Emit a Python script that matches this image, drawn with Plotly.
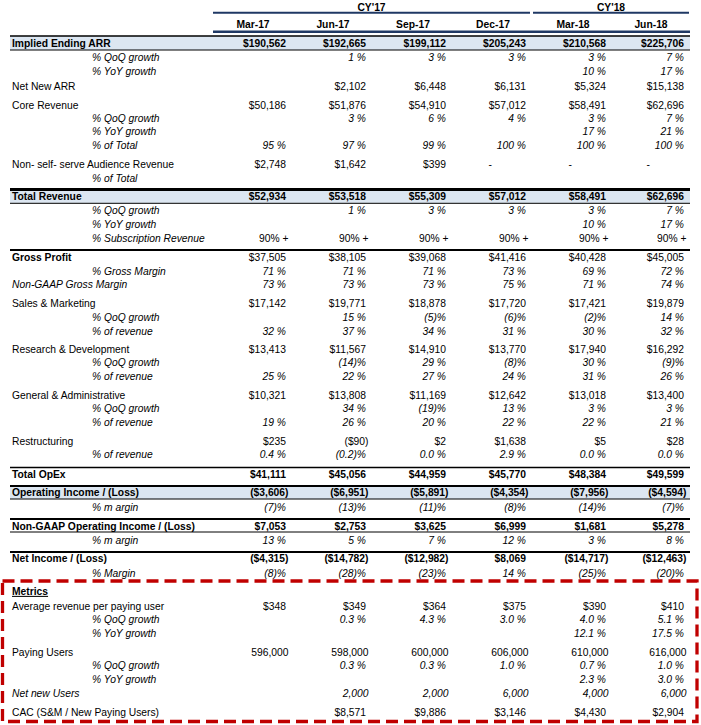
import plotly.graph_objects as go

# ---------------- data ----------------
periods = ["Mar-17", "Jun-17", "Sep-17", "Dec-17", "Mar-18", "Jun-18"]
years = ["CY'17", "CY'18"]

arr = [190562, 192665, 199112, 205243, 210568, 225706]
arr_qoq = [None, 1, 3, 3, 3, 7]
arr_yoy = [None, None, None, None, 10, 17]
net_new_arr = [None, 2102, 6448, 6131, 5324, 15138]
core_rev = [50186, 51876, 54910, 57012, 58491, 62696]
core_qoq = [None, 3, 6, 4, 3, 7]
core_yoy = [None, None, None, None, 17, 21]
core_pct_total = [95, 97, 99, 100, 100, 100]
nonself_rev = [2748, 1642, 399, 0, 0, 0]
nonself_pct = [None, None, None, None, None, None]
total_rev = [52934, 53518, 55309, 57012, 58491, 62696]
tr_qoq = [None, 1, 3, 3, 3, 7]
tr_yoy = [None, None, None, None, 10, 17]
sub_rev_pct = ["90% +", "90% +", "90% +", "90% +", "90% +", "90% +"]
gross_profit = [37505, 38105, 39068, 41416, 40428, 45005]
gross_margin = [71, 71, 71, 73, 69, 72]
ng_gross_margin = [73, 73, 73, 75, 71, 74]
sm = [17142, 19771, 18878, 17720, 17421, 19879]
sm_qoq = [None, 15, -5, -6, -2, 14]
sm_pct = [32, 37, 34, 31, 30, 32]
rd = [13413, 11567, 14910, 13770, 17940, 16292]
rd_qoq = [None, -14, 29, -8, 30, -9]
rd_pct = [25, 22, 27, 24, 31, 26]
ga = [10321, 13808, 11169, 12642, 13018, 13400]
ga_qoq = [None, 34, -19, 13, 3, 3]
ga_pct = [19, 26, 20, 22, 22, 21]
restr = [235, -90, 2, 1638, 5, 28]
restr_pct = [0.4, -0.2, 0.0, 2.9, 0.0, 0.0]
opex = [41111, 45056, 44959, 45770, 48384, 49599]
op_inc = [-3606, -6951, -5891, -4354, -7956, -4594]
op_margin = [-7, -13, -11, -8, -14, -7]
ng_op_inc = [7053, 2753, 3625, 6999, 1681, 5278]
ng_op_margin = [13, 5, 7, 12, 3, 8]
net_inc = [-4315, -14782, -12982, 8069, -14717, -12463]
net_margin = [-8, -28, -23, 14, -25, -20]
arpu = [348, 349, 364, 375, 390, 410]
arpu_qoq = [None, 0.3, 4.3, 3.0, 4.0, 5.1]
arpu_yoy = [None, None, None, None, 12.1, 17.5]
paying_users = [596000, 598000, 600000, 606000, 610000, 616000]
pay_qoq = [None, 0.3, 0.3, 1.0, 0.7, 1.0]
pay_yoy = [None, None, None, None, 2.3, 3.0]
net_new_users = [None, 2000, 2000, 6000, 4000, 6000]
cac = [None, 8571, 9886, 3146, 4430, 2904]

# ---------------- layout constants ----------------
W, H = 701, 725
FONT = "Arial, Liberation Sans, sans-serif"
FS = 10.3
COL_RIGHT = [286, 366, 446, 526, 606, 684]
MAIN_X, SUB_X = 12, 92
TEXT_DY = 1.3  # vertical nudge so glyphs sit on the same baseline as the reference
NAVY = "#1F3864"
HL = "#DCE6F1"
RED = "#C00000"

# (label, values, format, label style, value style, indent, y)
rows = [
    ("Implied Ending ARR", arr, "usd", "b", "b", 0, 43.5),
    ("% QoQ growth", arr_qoq, "pct", "i", "i", 1, 57.5),
    ("% YoY growth", arr_yoy, "pct", "i", "i", 1, 71.5),
    ("Net New ARR", net_new_arr, "usd", "", "", 0, 86),
    ("Core Revenue", core_rev, "usd", "", "", 0, 105),
    ("% QoQ growth", core_qoq, "pct", "i", "i", 1, 118),
    ("% YoY growth", core_yoy, "pct", "i", "i", 1, 131.5),
    ("% of Total", core_pct_total, "pct", "i", "i", 1, 145.5),
    ("Non- self- serve Audience Revenue", nonself_rev, "usd", "", "", 0, 164),
    ("% of Total", nonself_pct, "pct", "i", "i", 1, 178),
    ("Total Revenue", total_rev, "usd", "b", "b", 0, 196.5),
    ("% QoQ growth", tr_qoq, "pct", "i", "i", 1, 210.5),
    ("% YoY growth", tr_yoy, "pct", "i", "i", 1, 224.3),
    ("% Subscription Revenue", sub_rev_pct, "txt", "i", "", 1, 238),
    ("Gross Profit", gross_profit, "usd", "b", "", 0, 256.7),
    ("% Gross Margin", gross_margin, "pct", "i", "i", 1, 270.7),
    ("Non-GAAP Gross Margin", ng_gross_margin, "pct", "i", "i", 0, 284.5),
    ("Sales & Marketing", sm, "usd", "", "", 0, 303),
    ("% QoQ growth", sm_qoq, "pct", "i", "i", 1, 317),
    ("% of revenue", sm_pct, "pct", "i", "i", 1, 330.7),
    ("Research & Development", rd, "usd", "", "", 0, 349),
    ("% QoQ growth", rd_qoq, "pct", "i", "i", 1, 362.5),
    ("% of revenue", rd_pct, "pct", "i", "i", 1, 376),
    ("General & Administrative", ga, "usd", "", "", 0, 395.3),
    ("% QoQ growth", ga_qoq, "pct", "i", "i", 1, 408.5),
    ("% of revenue", ga_pct, "pct", "i", "i", 1, 422.5),
    ("Restructuring", restr, "usd", "", "", 0, 441.3),
    ("% of revenue", restr_pct, "pct1", "i", "i", 1, 454.5),
    ("Total OpEx", opex, "usd", "b", "b", 0, 474),
    ("Operating Income / (Loss)", op_inc, "usd", "b", "b", 0, 492.5),
    ("% m argin", op_margin, "pct", "i", "i", 1, 507),
    ("Non-GAAP Operating Income / (Loss)", ng_op_inc, "usd", "b", "b", 0, 526),
    ("% m argin", ng_op_margin, "pct", "i", "i", 1, 540),
    ("Net Income / (Loss)", net_inc, "usd", "b", "b", 0, 558.5),
    ("% Margin", net_margin, "pct", "i", "i", 1, 573),
    ("Metrics", [None] * 6, "usd", "bu", "", 0, 591),
    ("Average revenue per paying user", arpu, "usd", "", "", 0, 605.8),
    ("% QoQ growth", arpu_qoq, "pct1", "i", "i", 1, 619.2),
    ("% YoY growth", arpu_yoy, "pct1", "i", "i", 1, 632.8),
    ("Paying Users", paying_users, "cnt", "", "", 0, 651.8),
    ("% QoQ growth", pay_qoq, "pct1", "i", "i", 1, 665.2),
    ("% YoY growth", pay_yoy, "pct1", "i", "i", 1, 678.8),
    ("Net new Users", net_new_users, "cnt", "i", "i", 0, 692.7),
    ("CAC (S&M / New Paying Users)", cac, "usd", "", "", 0, 711.8),
]


def style(s, st):
    if "b" in st:
        s = "<b>" + s + "</b>"
    if "i" in st:
        s = "<i>" + s + "</i>"
    if "u" in st:
        s = "<u>" + s + "</u>"
    return s


def fmt(v, kind):
    if kind == "txt":
        return v
    if kind == "usd":
        if v == 0:
            return "-"
        return f"(${-v:,})" if v < 0 else f"${v:,}"
    if kind == "pct":
        return f"({-v})%" if v < 0 else f"{v} %"
    if kind == "pct1":
        return f"({-v:.1f})%" if v < 0 else f"{v:.1f} %"
    if kind == "cnt":
        return f"{v:,}"
    return str(v)


lab_x, lab_y, lab_t = [], [], []
val_x, val_y, val_t = [], [], []
for label, vals, kind, lst, vst, ind, y in rows:
    y = y + TEXT_DY
    lab_x.append(SUB_X if ind else MAIN_X)
    lab_y.append(y)
    lab_t.append(style(label, lst))
    for j, v in enumerate(vals):
        if v is None:
            continue
        s = fmt(v, kind)
        x = COL_RIGHT[j]
        if s == "-":
            x -= 34
        elif s.endswith(")"):
            x += 2.5
        elif kind == "cnt":
            x += 2.5
        elif kind == "txt":
            x += 2.5
        val_x.append(x)
        val_y.append(y)
        val_t.append(style(s, vst))

fig = go.Figure()

fig.add_trace(go.Scatter(x=lab_x, y=lab_y, text=lab_t, mode="text",
                         textposition="middle right", cliponaxis=False,
                         textfont=dict(family=FONT, size=FS, color="#000"),
                         hoverinfo="skip", showlegend=False))
fig.add_trace(go.Scatter(x=val_x, y=val_y, text=val_t, mode="text",
                         textposition="middle left", cliponaxis=False,
                         textfont=dict(family=FONT, size=FS, color="#000"),
                         hoverinfo="skip", showlegend=False))

# headers
hdr_x = [c - 33 for c in COL_RIGHT]
fig.add_trace(go.Scatter(x=hdr_x, y=[24 + TEXT_DY] * 6, text=["<b>" + p + "</b>" for p in periods],
                         mode="text", textposition="middle center", cliponaxis=False,
                         textfont=dict(family=FONT, size=FS, color="#000"),
                         hoverinfo="skip", showlegend=False))
fig.add_trace(go.Scatter(x=[371.5, 611], y=[7 + TEXT_DY] * 2, text=["<b>" + y + "</b>" for y in years],
                         mode="text", textposition="middle center", cliponaxis=False,
                         textfont=dict(family=FONT, size=FS, color="#000"),
                         hoverinfo="skip", showlegend=False))

shapes = []
for y0, y1 in [(36, 50), (190, 203), (486, 499)]:
    shapes.append(dict(type="rect", xref="x", yref="y", x0=10, x1=690, y0=y0, y1=y1,
                       fillcolor=HL, line=dict(width=0), layer="below"))


def hline(x0, x1, y, w, c):
    shapes.append(dict(type="line", xref="x", yref="y", x0=x0, x1=x1, y0=y, y1=y,
                       line=dict(color=c, width=w)))


hline(213, 530, 12.7, 2, NAVY)
hline(533, 689, 12.7, 2, NAVY)
hline(213, 690, 31.8, 2.5, NAVY)
hline(10, 690, 36, 1.5, "#000")
hline(10, 690, 50, 1, "#000")
hline(10, 690, 189.5, 3, "#000")
hline(10, 690, 203.3, 1, "#000")
hline(10, 690, 250, 2, "#000")
hline(10, 690, 467.5, 1.5, "#000")
hline(10, 690, 486, 2, "#000")
hline(10, 690, 499, 1, "#000")
hline(10, 690, 519, 2, "#000")
hline(10, 690, 532, 1, "#000")
hline(10, 690, 552, 2, "#000")

shapes.append(dict(type="rect", xref="x", yref="y", x0=2.5, x1=697, y0=581, y1=721.5,
                   line=dict(color=RED, width=3.3, dash="12px,6px"), fillcolor="rgba(0,0,0,0)"))

fig.update_layout(
    width=W, height=H,
    margin=dict(l=0, r=0, t=0, b=0),
    paper_bgcolor="white", plot_bgcolor="white",
    xaxis=dict(range=[0, W], visible=False, fixedrange=True),
    yaxis=dict(range=[H, 0], visible=False, fixedrange=True),
    shapes=shapes,
)

# remove the browser's default 8px page margin so the figure sits at the top-left corner
fig.write_html("out.html", config={"displayModeBar": False, "staticPlot": True},
               post_script="document.body.style.margin='0px';")
